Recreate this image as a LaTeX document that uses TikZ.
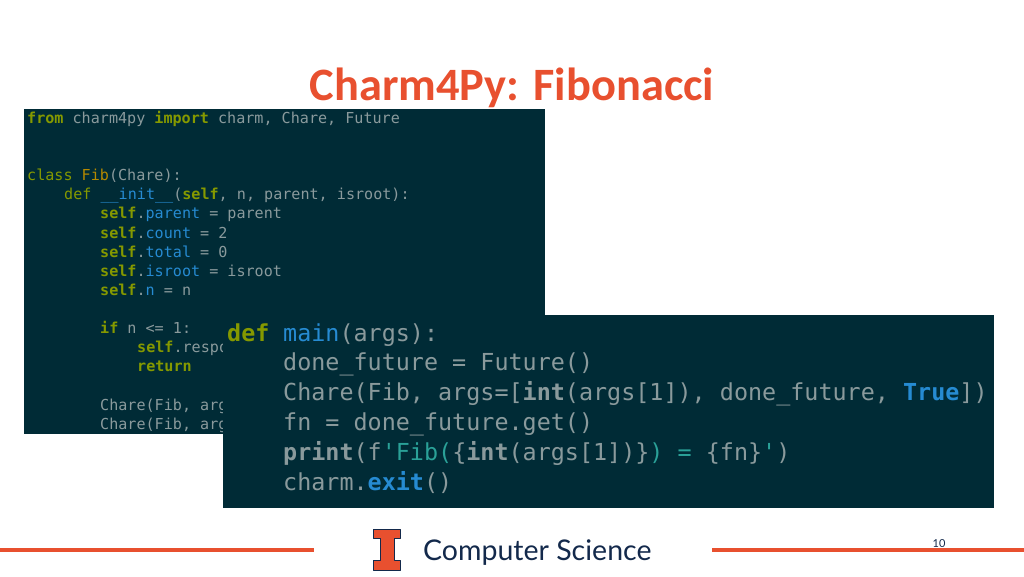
\documentclass[tikz,border=0pt]{standalone}
\usepackage{fontspec}
\setmainfont{Carlito}
\newfontfamily\codefont{DejaVu Sans Mono}
\newfontfamily\footfont{Lato}
\definecolor{illiniorange}{HTML}{E8502F}
\definecolor{illiniblue}{HTML}{13294B}
\definecolor{codebg}{HTML}{002B36}
\definecolor{codegray}{HTML}{8A9A9C}
\definecolor{codegreen}{HTML}{859900}
\definecolor{codeblue}{HTML}{268BD2}
\definecolor{codeteal}{HTML}{2AA198}
\definecolor{codeyellow}{HTML}{B58900}
\newcommand{\kw}[1]{\textcolor{codegreen}{\bfseries #1}}
\newcommand{\nm}[1]{\textcolor{codeblue}{#1}}
\newcommand{\st}[1]{\textcolor{codeteal}{#1}}
\tikzset{
  panel/.style={fill=codebg, draw=none, inner sep=0pt},
  smallcode/.style={anchor=base west, inner sep=0pt, text=codegray, font=\codefont\fontsize{15.1}{19}\selectfont},
  bigcode/.style={anchor=base west, inner sep=0pt, text=codegray, font=\codefont\fontsize{23.4}{30}\selectfont},
  footline/.style={illiniorange, line width=4pt}
}
\begin{document}
\begin{tikzpicture}[x=1pt,y=-1pt] %%slide, coordinates in pixels
\useasboundingbox (0,0) rectangle (1024,576);
\node[anchor=base, inner sep=0pt, text=illiniorange, font=\bfseries\fontsize{46.4}{52}\selectfont] (title) at (512,100) {Charm4Py: Fibonacci};
%%class snippet
\fill[panel] (24,109) rectangle (545,434);
\node[smallcode] (from) at (27,123) {\kw{from} charm4py \kw{import} charm, Chare, Future};
\node[smallcode] (class) at (27,180) {\textcolor{codegreen}{class} \textcolor{codeyellow}{Fib}(Chare):};
\node[smallcode] (init) at (64,199) {\textcolor{codegreen}{def} \nm{\_\_init\_\_}(\kw{self}, n, parent, isroot):};
\node[smallcode] (parent) at (100,218) {\kw{self}.\nm{parent} = parent};
\node[smallcode] (count) at (100,238) {\kw{self}.\nm{count} = 2};
\node[smallcode] (total) at (100,257) {\kw{self}.\nm{total} = 0};
\node[smallcode] (isroot) at (100,276) {\kw{self}.\nm{isroot} = isroot};
\node[smallcode] (n) at (100,295) {\kw{self}.\nm{n} = n};
\node[smallcode] (if) at (100,333) {\kw{if} n <= 1:};
\node[smallcode] (respond) at (137,352) {\kw{self}.respond};
\node[smallcode] (return) at (137,371) {\kw{return}};
\node[smallcode] (left) at (100,410) {Chare(Fib, args};
\node[smallcode] (right) at (100,429) {Chare(Fib, args};
%%main snippet
\fill[panel] (223,315) rectangle (994,508);
\node[bigcode] (def) at (227,341) {\kw{def}};
\node[bigcode] (main) at (283,341) {\nm{main}(args):};
\node[bigcode] (done) at (283,370.5) {done\_future = Future()};
\node[bigcode] (chare) at (283,400.5) {Chare(Fib, args=[\textbf{int}(args[1]), done\_future, \nm{\bfseries True}])};
\node[bigcode] (fn) at (283,430.5) {fn = done\_future.get()};
\node[bigcode] (print) at (283,460.5) {\textbf{print}(f\st{'Fib(}\{\textbf{int}(args[1])\}\st{) = }\{fn\}\st{'})};
\node[bigcode] (exit) at (283,490.5) {charm.\nm{\bfseries exit}()};
%%footer
\draw[footline] (0,550) -- (314,550);
\draw[footline] (712,550) -- (1024,550);
\filldraw[fill=illiniorange, draw=illiniblue, line width=0.9pt, line join=round] (373.5,529.5) -- (400.5,529.5) -- (400.5,538.5) -- (394,538.5) -- (394,560.5) -- (400.5,560.5) -- (400.5,570) -- (373.5,570) -- (373.5,560.5) -- (380,560.5) -- (380,538.5) -- (373.5,538.5) -- cycle;
\node[anchor=base west, inner sep=0pt, text=illiniblue, font=\footfont\fontsize{28.5}{32}\selectfont] (dept) at (423,560) {Computer Science};
\node[inner sep=0pt, text=illiniblue, font=\footfont\fontsize{11}{13}\selectfont] (page) at (939,544) {10};
\end{tikzpicture}
\end{document}
